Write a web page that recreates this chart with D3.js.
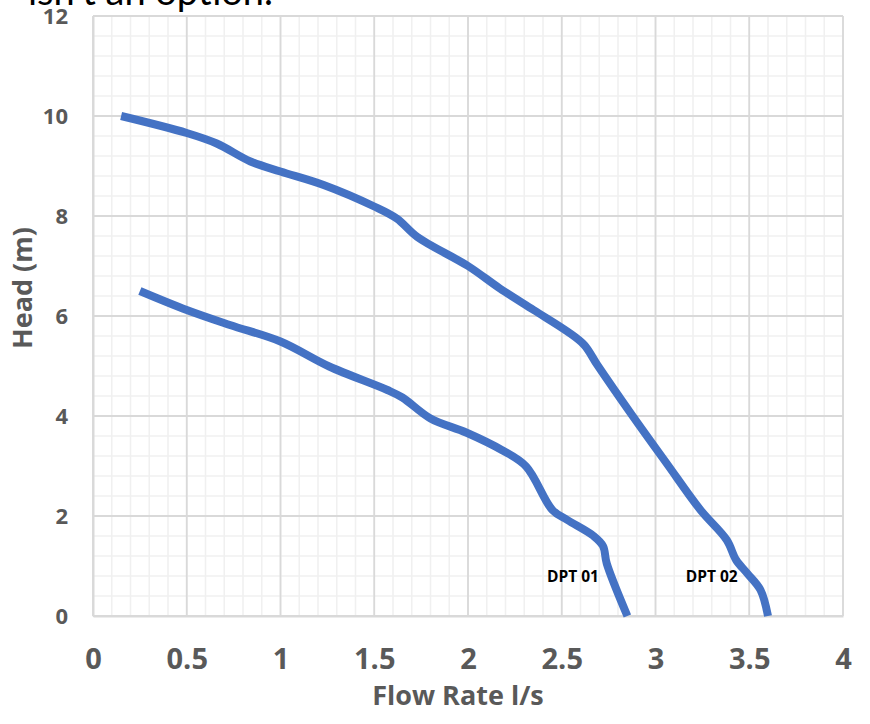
<!DOCTYPE html>
<html>
<head>
<meta charset="utf-8">
<script src="https://cdn.jsdelivr.net/npm/d3@7"></script>
<style>
  html, body { margin: 0; padding: 0; background: #fff; }
  svg { display: block; }
</style>
</head>
<body>
<svg id="chart" width="870" height="724"></svg>
<script>
// ---- data ----
const dpt01X = [0.25, 0.5, 0.73, 1.0, 1.26, 1.57, 1.65, 1.8, 1.99, 2.18, 2.31, 2.45, 2.53, 2.67, 2.72, 2.74, 2.85];
const dpt01Y = [6.5, 6.12, 5.82, 5.49, 4.99, 4.52, 4.37, 3.95, 3.67, 3.32, 2.99, 2.12, 1.92, 1.6, 1.4, 1.05, 0];
const dpt02X = [0.15, 0.5, 0.66, 0.84, 1.0, 1.23, 1.5, 1.62, 1.73, 2.0, 2.17, 2.35, 2.53, 2.62, 2.69, 2.88, 3.06, 3.24, 3.38, 3.43, 3.49, 3.56, 3.6];
const dpt02Y = [10, 9.66, 9.45, 9.09, 8.89, 8.62, 8.19, 7.95, 7.58, 7.0, 6.55, 6.12, 5.69, 5.42, 5.02, 3.99, 3.05, 2.12, 1.52, 1.12, 0.85, 0.52, 0];
const seriesNames = ["DPT 01", "DPT 02"];
const xTicks = [0, 0.5, 1, 1.5, 2, 2.5, 3, 3.5, 4];
const yTicks = [0, 2, 4, 6, 8, 10, 12];
const xMinorStep = 0.1;
const yMinorStep = 0.4;
const xTitle = "Flow Rate l/s";
const yTitle = "Head (m)";
const topText = "isn't an option.";

// ---- layout ----
const svg = d3.select("#chart");
const x = d3.scaleLinear().domain([0, 4]).range([93, 843]);
const y = d3.scaleLinear().domain([0, 12]).range([616, 16]);
const font = "'Open Sans', 'Noto Sans', sans-serif";
const gray = "#595959";

// minor grid
const xMinor = d3.range(0, 4 + 1e-9, xMinorStep);
const yMinor = d3.range(0, 12 + 1e-9, yMinorStep);
const grid = svg.append("g");
grid.selectAll("line.xm").data(xMinor).enter().append("line")
  .attr("x1", d => x(d)).attr("x2", d => x(d))
  .attr("y1", y(0)).attr("y2", y(12))
  .attr("stroke", "#f0f0f0").attr("stroke-width", 1.6);
grid.selectAll("line.ym").data(yMinor).enter().append("line")
  .attr("y1", d => y(d)).attr("y2", d => y(d))
  .attr("x1", x(0)).attr("x2", x(4))
  .attr("stroke", "#f0f0f0").attr("stroke-width", 1.6);
// major grid
grid.selectAll("line.xM").data(xTicks).enter().append("line")
  .attr("x1", d => x(d)).attr("x2", d => x(d))
  .attr("y1", y(0)).attr("y2", y(12))
  .attr("stroke", "#d9d9d9").attr("stroke-width", 1.8);
grid.selectAll("line.yM").data(yTicks).enter().append("line")
  .attr("y1", d => y(d)).attr("y2", d => y(d))
  .attr("x1", x(0)).attr("x2", x(4))
  .attr("stroke", "#d9d9d9").attr("stroke-width", 1.8);

// axes
const xAxis = svg.append("g").attr("transform", `translate(0,${y(0)})`)
  .call(d3.axisBottom(x).tickValues(xTicks).tickSize(0).tickFormat(d3.format("")));
xAxis.select(".domain").attr("stroke", "#d9d9d9").attr("stroke-width", 2);
xAxis.selectAll("text").attr("y", 53).attr("dy", 0)
  .attr("font-family", font).attr("font-weight", "bold").attr("font-size", 29).attr("fill", gray);

const yAxis = svg.append("g").attr("transform", `translate(${x(0)},0)`)
  .call(d3.axisLeft(y).tickValues(yTicks).tickSize(0).tickFormat(d3.format("")));
yAxis.select(".domain").attr("stroke", "#d9d9d9").attr("stroke-width", 2);
yAxis.selectAll("text").attr("x", -25).attr("dy", "0.36em")
  .attr("font-family", font).attr("font-weight", "bold").attr("font-size", 22).attr("fill", gray);

// curves
const line = d3.line().x(d => x(d[0])).y(d => y(d[1])).curve(d3.curveCatmullRom.alpha(0.5));
const series = [d3.zip(dpt01X, dpt01Y), d3.zip(dpt02X, dpt02Y)];
svg.append("g").selectAll("path").data(series).enter().append("path")
  .attr("d", line)
  .attr("fill", "none")
  .attr("stroke", "#4472C4")
  .attr("stroke-width", 8)
  .attr("stroke-linecap", "butt")
  .attr("stroke-linejoin", "round");

// series labels
const labelPos = [[2.56, 0.8], [3.3, 0.8]];
svg.append("g").selectAll("text").data(seriesNames).enter().append("text")
  .attr("x", (d, i) => x(labelPos[i][0]))
  .attr("y", (d, i) => y(labelPos[i][1]))
  .attr("dy", "0.36em")
  .attr("text-anchor", "middle")
  .attr("font-family", font).attr("font-weight", "bold").attr("font-size", 15.5)
  .attr("fill", "#000")
  .text(d => d);

// axis titles
svg.append("text")
  .attr("x", 458).attr("y", 705)
  .attr("text-anchor", "middle")
  .attr("font-family", font).attr("font-weight", "bold").attr("font-size", 27).attr("fill", gray)
  .text(xTitle);
svg.append("text")
  .attr("transform", "translate(32,288) rotate(-90)")
  .attr("text-anchor", "middle")
  .attr("font-family", font).attr("font-weight", "bold").attr("font-size", 27).attr("fill", gray)
  .text(yTitle);

// clipped text from surrounding page
svg.append("text")
  .attr("x", 28).attr("y", 5)
  .attr("font-family", "Lato, sans-serif").attr("font-size", 38).attr("fill", "#000")
  .text(topText);
</script>
</body>
</html>
